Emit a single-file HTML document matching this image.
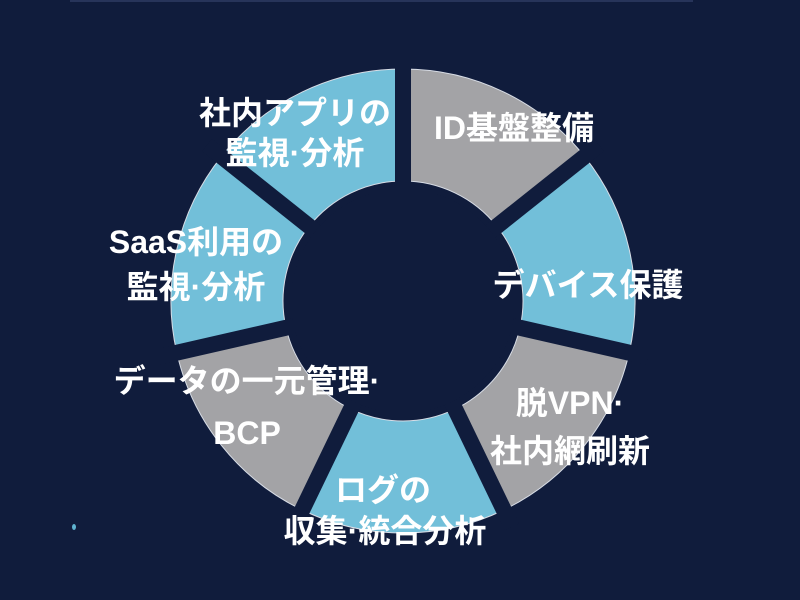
<!DOCTYPE html>
<html><head><meta charset="utf-8"><style>
html,body{margin:0;padding:0;background:#101c3c;}
svg{display:block}
text{font-family:"Liberation Sans","Noto Sans CJK JP",sans-serif;font-weight:bold;fill:#fff;font-size:32px;text-anchor:middle}
</style></head><body>
<svg width="800" height="600" viewBox="0 0 800 600" xmlns="http://www.w3.org/2000/svg">
<rect width="800" height="600" fill="#101c3c"/>
<rect x="70" y="0" width="623" height="2" fill="#27345a"/>
<g stroke="#d8dde6" stroke-width="1">
<path d="M403,69 A232,232 0 0 1 584.4,156.3 L496.8,226.2 A120,120 0 0 0 403,181 Z" fill="#a3a3a6"/>
<path d="M584.4,156.3 A232,232 0 0 1 629.2,352.6 L520,327.7 A120,120 0 0 0 496.8,226.2 Z" fill="#72bfd9"/>
<path d="M629.2,352.6 A232,232 0 0 1 503.7,510 L455.1,409.1 A120,120 0 0 0 520,327.7 Z" fill="#a3a3a6"/>
<path d="M503.7,510 A232,232 0 0 1 302.3,510 L350.9,409.1 A120,120 0 0 0 455.1,409.1 Z" fill="#72bfd9"/>
<path d="M302.3,510 A232,232 0 0 1 176.8,352.6 L286,327.7 A120,120 0 0 0 350.9,409.1 Z" fill="#a3a3a6"/>
<path d="M176.8,352.6 A232,232 0 0 1 221.6,156.3 L309.2,226.2 A120,120 0 0 0 286,327.7 Z" fill="#72bfd9"/>
<path d="M221.6,156.3 A232,232 0 0 1 403,69 L403,181 A120,120 0 0 0 309.2,226.2 Z" fill="#72bfd9"/>
</g>
<g stroke="#101c3c" stroke-width="16">
<line x1="403" y1="301" x2="403" y2="50"/>
<line x1="403" y1="301" x2="599" y2="145"/>
<line x1="403" y1="301" x2="648" y2="357"/>
<line x1="403" y1="301" x2="512" y2="527"/>
<line x1="403" y1="301" x2="294" y2="527"/>
<line x1="403" y1="301" x2="158" y2="357"/>
<line x1="403" y1="301" x2="207" y2="145"/>
</g>
<circle cx="403" cy="301" r="112" fill="#101c3c"/>
<text x="514" y="139">ID基盤整備</text>
<text x="295" y="124">社内アプリの</text>
<text x="295" y="164">監視·分析</text>
<text x="196" y="253">SaaS利用の</text>
<text x="196" y="298">監視·分析</text>
<text x="588" y="296">デバイス保護</text>
<text x="570" y="414">脱VPN·</text>
<text x="570" y="462">社内網刷新</text>
<text x="247" y="392">データの一元管理·</text>
<text x="247" y="444">BCP</text>
<text x="383" y="501">ログの</text>
<text x="385" y="542">収集·統合分析</text>
<ellipse cx="74" cy="527" rx="2" ry="3" fill="#5fb3d0"/>
</svg>
</body></html>
